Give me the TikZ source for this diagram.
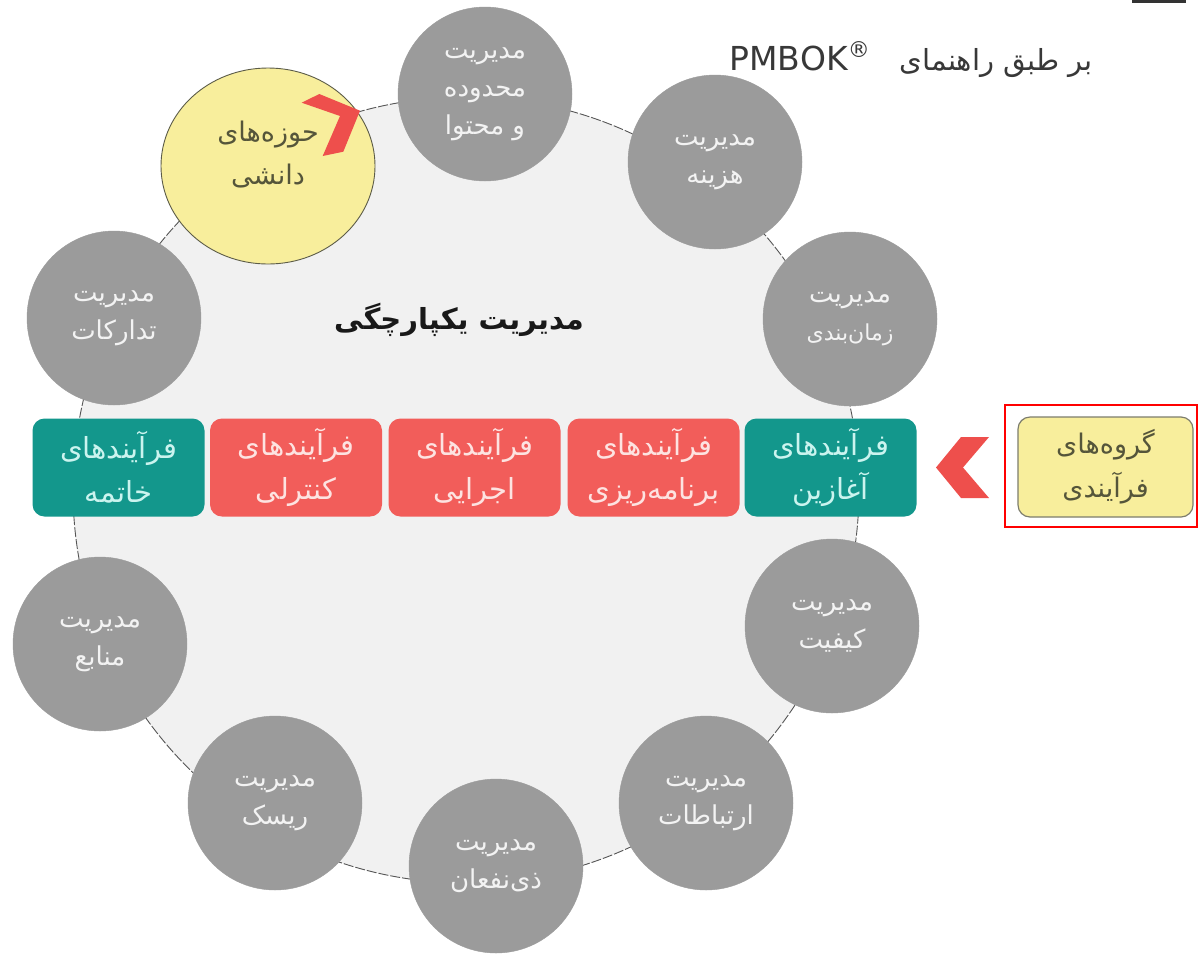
\documentclass[tikz,border=0pt]{standalone}
\usepackage{fontspec}
\setmainfont{DejaVu Sans}
\newfontfamily\fa[Script=Arabic]{DejaVu Sans}
\TeXXeTstate=1
\usetikzlibrary{shapes.geometric}

\definecolor{ringfill}{HTML}{F1F1F1}
\definecolor{ringline}{HTML}{555555}
\definecolor{cgray}{HTML}{9B9B9B}
\definecolor{ctxt}{HTML}{F3F3F3}
\definecolor{yfill}{HTML}{F8EE9C}
\definecolor{yline}{HTML}{5C5C48}
\definecolor{ytxt}{HTML}{55553A}
\definecolor{tealc}{HTML}{13978C}
\definecolor{tealtxt}{HTML}{CBF4EF}
\definecolor{redc}{HTML}{F25D5A}
\definecolor{redtxt}{HTML}{FDE3E1}
\definecolor{chev}{HTML}{EE4F4C}
\definecolor{titlec}{HTML}{383838}

\newcommand\rtltxt[1]{\beginR #1\endR}

\tikzset{
  area/.style={circle, draw=cgray, fill=cgray, text=ctxt, inner sep=0pt,
    minimum size=174pt, align=center, font=\fa\fontsize{26}{38}\selectfont},
  phase/.style={rectangle, rounded corners=12pt, minimum width=172pt, minimum height=98pt,
    inner sep=0pt, align=center, font=\fa\fontsize{29}{44}\selectfont},
  startend/.style={phase, fill=tealc, text=tealtxt},
  middle/.style={phase, fill=redc, text=redtxt},
  chevron/.style={fill=chev, draw=none}
}

\begin{document}
\begin{tikzpicture}[x=1pt, y=-1pt]
\useasboundingbox (0,0) rectangle (1198,954);
\fill[white] (0,0) rectangle (1198,954);

% the integration ring behind everything
\draw[fill=ringfill, draw=ringline, line width=0.9pt, dash pattern=on 10pt off 2pt]
  (466,490) circle (393pt);

% process groups
\node[startend] (close) at (118.5,467.5) {\rtltxt{فرآیندهای}\\\rtltxt{خاتمه}};
\node[middle]   (ctrl)  at (296,467.5)   {\rtltxt{فرآیندهای}\\\rtltxt{کنترلی}};
\node[middle]   (exec)  at (474.5,467.5) {\rtltxt{فرآیندهای}\\\rtltxt{اجرایی}};
\node[middle]   (plan)  at (653.5,467.5) {\rtltxt{فرآیندهای}\\\rtltxt{برنامه^^^^200cریزی}};
\node[startend] (init)  at (830.5,467.5) {\rtltxt{فرآیندهای}\\\rtltxt{آغازین}};

% knowledge areas
\node[area] (scope) at (485,94)  {\rtltxt{مدیریت}\\\rtltxt{محدوده}\\\rtltxt{و محتوا}};
\node[area] (cost)  at (715,162) {\rtltxt{مدیریت}\\\rtltxt{هزینه}};
\node[area] (sched) at (850,319) {\rtltxt{مدیریت}\\{\fontsize{22}{38}\selectfont\rtltxt{زمان^^^^200cبندی}}};
\node[area] (qual)  at (832,626) {\rtltxt{مدیریت}\\\rtltxt{کیفیت}};
\node[area] (comm)  at (706,803) {\rtltxt{مدیریت}\\\rtltxt{ارتباطات}};
\node[area] (stake) at (496,866) {\rtltxt{مدیریت}\\\rtltxt{ذی^^^^200cنفعان}};
\node[area] (risk)  at (275,803) {\rtltxt{مدیریت}\\\rtltxt{ریسک}};
\node[area] (res)   at (100,644) {\rtltxt{مدیریت}\\\rtltxt{منابع}};
\node[area] (proc)  at (114,318) {\rtltxt{مدیریت}\\\rtltxt{تدارکات}};

% knowledge areas label
\node[ellipse, minimum width=214pt, minimum height=196pt, fill=yfill, draw=yline,
  line width=0.9pt, inner sep=0pt] (know) at (268,166) {};
\node[text=ytxt, align=center, inner sep=0pt, font=\fa\fontsize{27}{43}\selectfont]
  (knowtxt) at (268,155) {\rtltxt{حوزه^^^^200cهای}\\\rtltxt{دانشی}};
\fill[chevron] (301.7,102.7) -- (319.3,94) -- (360,110.7) -- (343.3,151.7)
  -- (322.7,156) -- (340,116) -- cycle;

% integration label
\node[font=\fa\bfseries\fontsize{29}{34}\selectfont, text=black!90, inner sep=0pt] (integ) at (459,320)
  {\rtltxt{مدیریت یکپارچگی}};

% title
\node[anchor=base east, inner sep=0pt, text=titlec, font=\fa\fontsize{29}{32}\selectfont]
  (title) at (1093,70)
  {\beginR بر طبق راهنمای\hspace*{30pt}\beginL{\fontsize{33}{33}\selectfont PMBOK}\raisebox{13pt}{\fontsize{22}{22}\selectfont ®}\endL\endR};

% process groups label
\draw[red, line width=2pt] (1005,405) rectangle (1197,527);
\node[rectangle, rounded corners=12pt, minimum width=175pt, minimum height=100pt,
  fill=yfill, draw=yline!80, line width=1.2pt, text=ytxt, align=center, inner sep=0pt,
  font=\fa\fontsize{27}{44}\selectfont] (groups) at (1105.5,467)
  {\rtltxt{گروه^^^^200cهای}\\\rtltxt{فرآیندی}};
\fill[chevron] (961,437) -- (989,437) -- (963,467.5) -- (989,498) -- (961,498)
  -- (936,467.5) -- cycle;

% page edge mark
\fill[black!80] (1132,0) rectangle (1186,2.5);
\end{tikzpicture}
\end{document}
